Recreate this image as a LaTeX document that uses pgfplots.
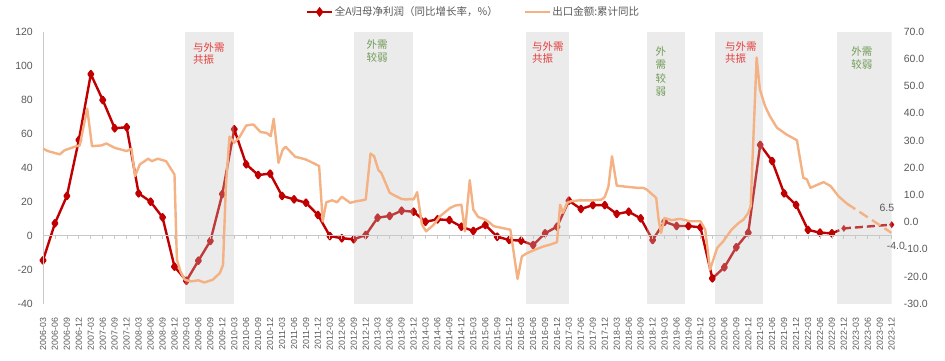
\documentclass[border=0pt]{standalone}
\usepackage{fontspec}
\setmainfont{Liberation Sans}
\newfontfamily\cjk{Noto Sans CJK SC}
\usepackage{pgfplots}
\pgfplotsset{compat=1.18}
\definecolor{dred}{HTML}{C00000}
\definecolor{lorange}{HTML}{F4B183}
\definecolor{shade}{HTML}{BEBEBE}
\definecolor{txtgray}{HTML}{595959}
\definecolor{axgray}{HTML}{C8C8C8}
\definecolor{lblred}{HTML}{E43C3C}
\definecolor{lblgreen}{HTML}{6E9A55}
\begin{document}
\begin{tikzpicture}
\path[use as bounding box] (-43pt,-57.3pt) rectangle (902pt,303.7pt);
\begin{axis}[
  at={(0pt,0pt)}, anchor=south west,
  scale only axis, width=848.7pt, height=272pt,
  xmin=0, xmax=71, ymin=-40, ymax=120,
  ytick={-40,-20,...,120},
  xtick={0,...,71},
  xticklabels={2006-03,2006-06,2006-09,2006-12,2007-03,2007-06,2007-09,2007-12,2008-03,2008-06,2008-09,2008-12,2009-03,2009-06,2009-09,2009-12,2010-03,2010-06,2010-09,2010-12,2011-03,2011-06,2011-09,2011-12,2012-03,2012-06,2012-09,2012-12,2013-03,2013-06,2013-09,2013-12,2014-03,2014-06,2014-09,2014-12,2015-03,2015-06,2015-09,2015-12,2016-03,2016-06,2016-09,2016-12,2017-03,2017-06,2017-09,2017-12,2018-03,2018-06,2018-09,2018-12,2019-03,2019-06,2019-09,2019-12,2020-03,2020-06,2020-09,2020-12,2021-03,2021-06,2021-09,2021-12,2022-03,2022-06,2022-09,2022-12,2023-03,2023-06,2023-09,2023-12},
  axis line style={draw=none}, major tick length=0pt,
  /pgf/number format/assume math mode=true,
  ticklabel style={font=\fontsize{10.5}{12}\selectfont, text=txtgray},
  yticklabel style={inner sep=0pt, xshift=-10pt, anchor=east},
  xticklabel style={font=\fontsize{8.8}{10}\selectfont, inner sep=0pt, yshift=-14pt, rotate=90, anchor=east},
  clip mode=individual,
]
% red solid
\addplot[dred, line width=2.4pt, line join=round, mark=diamond*, mark size=3.1pt, mark options={solid}] coordinates {
(0,-14.5) (1,7.3) (2,23.4) (3,56.3) (4,95.0) (5,79.8) (6,63.2) (7,63.8) (8,24.9) (9,20.0)
(10,10.8) (11,-18.2) (12,-26.5) (13,-14.7) (14,-3.1) (15,24.5) (16,62.6) (17,42.0) (18,35.7) (19,36.5)
(20,23.4) (21,21.4) (22,19.4) (23,12.2) (24,-0.2) (25,-1.5) (26,-2.1) (27,0.4) (28,10.6) (29,11.6)
(30,14.7) (31,14.1) (32,8.2) (33,9.6) (34,9.2) (35,5.3) (36,2.8) (37,6.3) (38,-0.6) (39,-2.5)
(40,-2.9) (41,-5.5) (42,1.4) (43,5.3) (44,20.6) (45,15.7) (46,18.0) (47,18.0) (48,12.8) (49,14.1)
(50,10.2) (51,-2.5) (52,8.2) (53,5.7) (54,5.7) (55,4.9) (56,-25.1) (57,-18.6) (58,-6.8) (59,1.8)
(60,53.4) (61,43.9) (62,24.9) (63,18.1) (64,3.4) (65,1.8) (66,1.4)};
% red forecast
\addplot[dred, line width=2.4pt, dash pattern=on 8pt off 4pt] coordinates {(66,1.4) (67,4.3) (71,6.5)};
\addplot[dred, only marks, mark=diamond*, mark size=3.1pt] coordinates {(67,4.3) (71,6.5)};
% shaded periods
\addplot[draw=none, fill=shade, fill opacity=0.31] coordinates {(11.9,-40) (16.0,-40) (16.0,120) (11.9,120)} --cycle;
\addplot[draw=none, fill=shade, fill opacity=0.31] coordinates {(26.0,-40) (30.95,-40) (30.95,120) (26.0,120)} --cycle;
\addplot[draw=none, fill=shade, fill opacity=0.31] coordinates {(40.4,-40) (44.0,-40) (44.0,120) (40.4,120)} --cycle;
\addplot[draw=none, fill=shade, fill opacity=0.31] coordinates {(50.5,-40) (53.7,-40) (53.7,120) (50.5,120)} --cycle;
\addplot[draw=none, fill=shade, fill opacity=0.31] coordinates {(56.2,-40) (60.2,-40) (60.2,120) (56.2,120)} --cycle;
\addplot[draw=none, fill=shade, fill opacity=0.31] coordinates {(66.4,-40) (71,-40) (71,120) (66.4,120)} --cycle;
% zero line, ticks, left axis line
\draw[axgray, line width=0.8pt] (axis cs:0,0) -- (axis cs:71,0);
\pgfplotsinvokeforeach{0,...,71}{\draw[axgray, line width=0.8pt] (axis cs:#1,0) -- ++(0pt,-3.5pt);}
\draw[axgray, line width=0.8pt] (rel axis cs:0,0) -- (rel axis cs:0,1);
% period labels
\node[anchor=north west, inner sep=0pt, align=left, text=lblred, font=\cjk\fontsize{10.5}{12}\selectfont] at (axis cs:12.55,113.5) {与外需\\共振};
\node[anchor=north, inner sep=0pt, align=center, text=lblgreen, font=\cjk\fontsize{10.5}{13}\selectfont] at (axis cs:27.95,115.5) {外需\\较弱};
\node[anchor=north west, inner sep=0pt, align=left, text=lblred, font=\cjk\fontsize{10.5}{12}\selectfont] at (axis cs:40.9,114) {与外需\\共振};
\node[anchor=north, inner sep=0pt, align=center, text=lblgreen, font=\cjk\fontsize{10.5}{13.5}\selectfont] at (axis cs:51.7,111.5) {外\\需\\较\\弱};
\node[anchor=north west, inner sep=0pt, align=left, text=lblred, font=\cjk\fontsize{10.5}{12}\selectfont] at (axis cs:57.05,114.5) {与外需\\共振};
\node[anchor=north, inner sep=0pt, align=center, text=lblgreen, font=\cjk\fontsize{10.5}{13.5}\selectfont] at (axis cs:68.5,111.5) {外需\\较弱};
\node[text=txtgray, font=\fontsize{10.5}{12}\selectfont, inner sep=0pt] at (axis cs:70.6,16.3) {6.5};
\end{axis}
\begin{axis}[
  at={(0pt,0pt)}, anchor=south west,
  scale only axis, width=848.7pt, height=272pt,
  xmin=0, xmax=71, ymin=-30, ymax=70,
  ytick={-30,-20,...,70},
  axis x line=none, axis y line*=right,
  axis line style={draw=none}, major tick length=0pt,
  /pgf/number format/assume math mode=true,
  yticklabel style={/pgf/number format/.cd, fixed, fixed zerofill, precision=1, /tikz/.cd, font=\fontsize{10.5}{12}\selectfont, text=txtgray, inner sep=0pt, xshift=12pt, anchor=west},
  clip mode=individual,
  legend style={at={(0.507,1)}, anchor=center, yshift=19.7pt, draw=none, fill=none, legend columns=2, font=\cjk\fontsize{10.5}{12}\selectfont, text=txtgray, /tikz/every even column/.append style={column sep=24pt}, inner sep=0pt, nodes={inner sep=1.5pt}},
  legend image code/.code={\draw[mark repeat=2, mark phase=2, #1] plot coordinates {(0pt,0pt) (12.5pt,0pt) (25pt,0pt)};},
]
\addlegendimage{dred, line width=2.4pt, mark=diamond*, mark size=3.1pt}
\addlegendentry{全A归母净利润（同比增长率，\%）}
\addlegendimage{lorange, line width=2.4pt}
\addlegendentry{出口金额:累计同比}
\addplot[lorange, line width=2.4pt, line join=round, forget plot] coordinates {
(0,27.0) (0.42,26.1) (1.4,24.9) (1.8,26.4) (2.65,27.7) (3.07,28.2) (3.7,41.7) (4.1,27.9) (4.9,28.2) (5.3,28.9)
(6.0,27.3) (7.0,26.1) (7.4,27.0) (7.7,16.9) (8.1,21.2) (8.8,23.3) (9.1,22.4) (9.6,23.3) (10.3,22.4) (11.0,17.5)
(11.2,-13.8) (11.5,-18.1) (11.86,-21.2) (12.4,-21.8) (13.0,-21.4) (13.5,-22.2) (14.2,-21.2) (14.8,-18.7) (15.06,-15.7) (15.3,13.2)
(15.6,31.4) (16.0,29.2) (16.46,31.4) (17.0,35.5) (17.6,35.9) (18.2,33.1) (18.7,32.8) (19.05,31.6) (19.3,38.0) (19.7,21.8)
(20.06,26.7) (20.3,27.7) (21.1,24.0) (21.5,23.6) (22.0,23.0) (22.7,21.5) (23.1,20.6) (23.4,0.3) (23.7,7.3) (24.2,8.0)
(24.6,7.3) (25.0,9.3) (25.7,7.1) (26.25,7.7) (26.7,8.0) (27.0,8.3) (27.4,25.2) (27.7,24.2) (28.06,19.1) (28.3,18.1)
(29.0,10.8) (29.4,9.8) (30.0,8.5) (30.4,8.3) (30.8,8.5) (31.0,8.3) (31.3,11.0) (31.7,-0.9) (32.05,-3.4) (32.7,-0.9)
(33.2,2.1) (34.06,5.2) (34.5,6.1) (35.0,6.4) (35.3,-3.4) (35.7,15.4) (36.0,4.6) (36.4,1.9) (37.0,0.9) (37.4,-0.3)
(37.7,-1.5) (39.1,-2.8) (39.7,-20.9) (40.06,-12.6) (40.5,-11.4) (41.3,-9.9) (41.9,-8.9) (42.4,-8.3) (43.0,-7.4) (43.26,6.4)
(43.5,3.4) (43.85,7.1) (44.2,7.7) (44.9,8.0) (46.0,8.0) (46.75,8.3) (47.0,9.3) (47.3,13.0) (47.6,24.2) (48.0,13.4)
(48.8,13.0) (49.7,12.6) (50.2,12.6) (50.5,12.0) (51.3,8.9) (51.5,0.9) (51.7,-4.0) (52.0,1.5) (52.6,0.7) (53.3,1.2)
(54.1,0.3) (55.0,0.3) (55.4,-2.8) (55.8,-17.5) (56.4,-9.5) (56.9,-7.1) (57.6,-2.8) (58.2,-0.3) (58.6,0.9) (59.0,3.4)
(59.2,5.8) (59.7,60.5) (59.97,48.8) (60.4,42.7) (60.8,39.0) (61.4,34.7) (62.2,32.2) (63.07,30.1) (63.6,16.3) (63.9,15.7)
(64.2,12.6) (65.3,14.7) (65.9,13.2) (66.55,9.5) (67.25,6.8)};
\addplot[lorange, line width=2.4pt, dash pattern=on 10pt off 5pt, forget plot] coordinates {(67.25,6.8) (71,-4.0)};
\node[text=txtgray, font=\fontsize{10.5}{12}\selectfont, inner sep=0pt] at (axis cs:71.35,-8.8) {-4.0};
\end{axis}
\end{tikzpicture}
\end{document}
